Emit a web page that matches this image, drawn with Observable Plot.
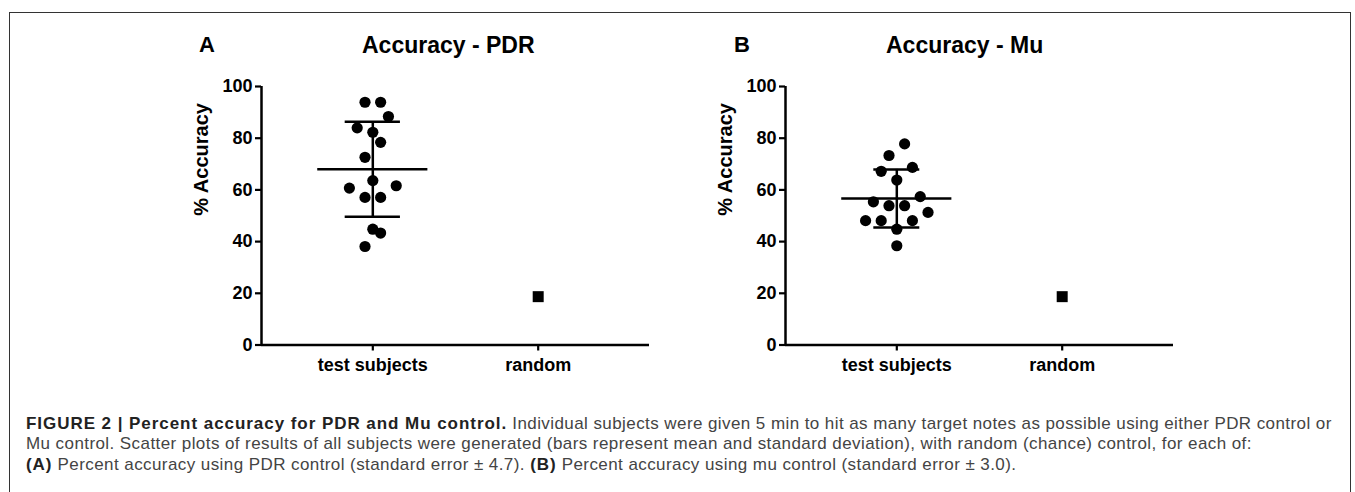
<!DOCTYPE html>
<html>
<head>
<meta charset="utf-8">
<script src="https://cdn.jsdelivr.net/npm/d3@7"></script>
<script src="https://cdn.jsdelivr.net/npm/@observablehq/plot@0.6"></script>
<style>
  html, body { margin: 0; padding: 0; background: #fff; }
  body { width: 1355px; height: 492px; position: relative; overflow: hidden; font-family: "Liberation Sans", Arial, Helvetica, sans-serif; }
  #frame { position: absolute; left: 9px; top: 12px; width: 1342px; height: 600px; border: 1.5px solid #333; box-sizing: border-box; }
  .abs { position: absolute; white-space: nowrap; }
  .letter { font-size: 22px; font-weight: bold; line-height: 22px; color: #000; }
  .title { font-size: 23px; font-weight: bold; line-height: 23px; color: #000; }
  #caption { left: 26px; top: 413.5px; font-size: 17px; letter-spacing: 0.42px; line-height: 20.8px; color: #444; }
  #caption b { color: #222; letter-spacing: 0.95px; }
  .panel { position: absolute; top: 60px; }
</style>
</head>
<body>
<div id="frame"></div>
<div class="abs letter" style="left:199px; top:34px;">A</div>
<div class="abs title" style="left:362px; top:33.5px;">Accuracy - PDR</div>
<div class="abs letter" style="left:734px; top:34px;">B</div>
<div class="abs title" style="left:886px; top:33.5px;">Accuracy - Mu</div>
<div id="panelA" class="panel" style="left:150px;"></div>
<div id="panelB" class="panel" style="left:674px;"></div>
<div id="caption" class="abs"><b>FIGURE 2 | Percent accuracy for PDR and Mu control.</b> Individual subjects were given 5 min to hit as many target notes as possible using either PDR control or<br>Mu control. Scatter plots of results of all subjects were generated (bars represent mean and standard deviation), with random (chance) control, for each of:<br><b>(A)</b> Percent accuracy using PDR control (standard error ± 4.7). <b>(B)</b> Percent accuracy using mu control (standard error ± 3.0).</div>
<script>
// ---- data ----
const categories = ["test subjects", "random"];
const yTicks = [0, 20, 40, 60, 80, 100];
const yLabel = "% Accuracy";

// Panel A: PDR accuracy per subject, with scatter column index
const pdrValues = [93.9, 93.9, 88.4, 84.0, 82.3, 78.4, 72.6, 63.6, 60.7, 61.6, 57.1, 57.1, 44.8, 43.3, 38.1];
const pdrColumns = [-1, 1, 2, -2, 0, 1, -1, 0, -3, 3, -1, 1, 0, 1, -1];
const pdrRandom = 18.7;

// Panel B: Mu accuracy per subject, with scatter column index
const muValues = [77.8, 73.3, 67.2, 68.7, 63.8, 55.4, 53.9, 53.9, 57.4, 51.3, 48.1, 48.1, 48.1, 44.8, 38.4];
const muColumns = [1, -1, -2, 2, 0, -3, -1, 1, 3, 4, -4, -2, 2, 0, 0];
const muRandom = 18.7;

// ---- drawing ----
const X0 = 0.327, X1 = 2.673;
const step = 0.0472;   // horizontal spacing of scatter columns
const lw = 2.5;

function panel(values, columns, randomValue, capHalf) {
  const rows = values.map((v, i) => ({cat: 1, col: columns[i], y: v}));
  const m = d3.mean(values), s = d3.deviation(values);
  return Plot.plot({
    width: 509, height: 325,
    marginLeft: 111, marginRight: 10, marginTop: 26, marginBottom: 40.5,
    x: {domain: [X0, X1]},
    y: {domain: [0, 100]},
    style: {fontFamily: "'Liberation Sans', Arial, sans-serif", fontSize: "18px", fontWeight: "bold", color: "#000", background: "transparent", overflow: "visible"},
    marks: [
      Plot.axisY({ticks: yTicks, tickSize: 6, strokeWidth: 2.2, tickPadding: 3, label: null}),
      Plot.axisX({ticks: [1, 2], tickFormat: d => categories[d - 1], tickSize: 6, strokeWidth: 2.2, tickPadding: 7.5, label: null}),
      Plot.ruleX([X0], {y1: 0, y2: 100, strokeWidth: lw}),
      Plot.ruleY([0], {strokeWidth: lw}),
      Plot.ruleY([m], {x1: 1 - 0.333, x2: 1 + 0.333, strokeWidth: lw}),
      Plot.ruleY([m - s, m + s], {x1: 1 - capHalf, x2: 1 + capHalf, strokeWidth: lw}),
      Plot.ruleX([1], {y1: m - s, y2: m + s, strokeWidth: lw}),
      Plot.dot(rows, {x: d => d.cat + d.col * step, y: "y", r: 5.6, fill: "#000", stroke: null}),
      Plot.dot([randomValue], {x: () => 2, y: d => d, symbol: "square", r: 6.2, fill: "#000", stroke: null}),
      Plot.text([yLabel], {frameAnchor: "left", rotate: -90, dx: -60, fontSize: 20, fontWeight: "bold"})
    ]
  });
}

document.getElementById("panelA").append(panel(pdrValues, pdrColumns, pdrRandom, 0.167));
document.getElementById("panelB").append(panel(muValues, muColumns, muRandom, 0.139));
</script>
</body>
</html>
